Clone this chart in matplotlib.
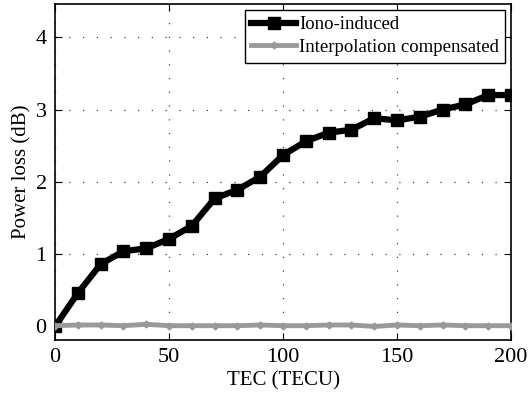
import numpy as np
import matplotlib
matplotlib.use('Agg')
import matplotlib.pyplot as plt

plt.rcParams['font.family'] = ['Liberation Serif', 'DejaVu Serif']
plt.rcParams['font.size'] = 14

# Data
tec = [0, 10, 20, 30, 40, 50, 60, 70, 80, 90, 100,
       110, 120, 130, 140, 150, 160, 170, 180, 190, 200]
iono_induced = [0.0, 0.46, 0.86, 1.04, 1.08, 1.21, 1.39, 1.77, 1.89, 2.07, 2.37,
                2.56, 2.68, 2.72, 2.88, 2.85, 2.90, 3.00, 3.07, 3.20, 3.20]
interp_comp = [0.01, 0.02, 0.02, 0.01, 0.03, 0.01, 0.01, 0.01, 0.01, 0.02, 0.01,
               0.01, 0.02, 0.02, 0.0, 0.02, 0.01, 0.02, 0.01, 0.01, 0.01]

fig = plt.figure(figsize=(5.29, 3.96), dpi=100)
ax = fig.add_axes([0.104, 0.141, 0.862, 0.849])

ax.plot(tec, iono_induced, color='black', lw=4.5, marker='s', markersize=9,
        label='Iono-induced', zorder=3)
ax.plot(tec, interp_comp, color='#999999', lw=3.5, marker='D', markersize=3.5,
        label='Interpolation compensated', zorder=4)

ax.set_xlim(0, 200)
ax.set_ylim(-0.19, 4.46)
ax.set_xticks([0, 50, 100, 150, 200])
ax.set_yticks([0, 1, 2, 3, 4])
ax.tick_params(direction='in', top=True, right=True, length=5, labelsize=16, pad=6)
ax.grid(True, color='#444444', linestyle=(0, (1, 10)), lw=0.9)
for s in ax.spines.values():
    s.set_linewidth(1.2)

ax.set_xlabel('TEC (TECU)', fontsize=15, labelpad=3)
ax.set_ylabel('Power loss (dB)', fontsize=15, labelpad=3)

leg = ax.legend(loc='upper right', fontsize=13.5, fancybox=False, framealpha=1,
                edgecolor='black', borderaxespad=0.3, handlelength=2.4,
                handletextpad=0.15, borderpad=0.35, labelspacing=0.3)
leg.get_frame().set_linewidth(1.0)

fig.savefig('out.png', dpi=100)
